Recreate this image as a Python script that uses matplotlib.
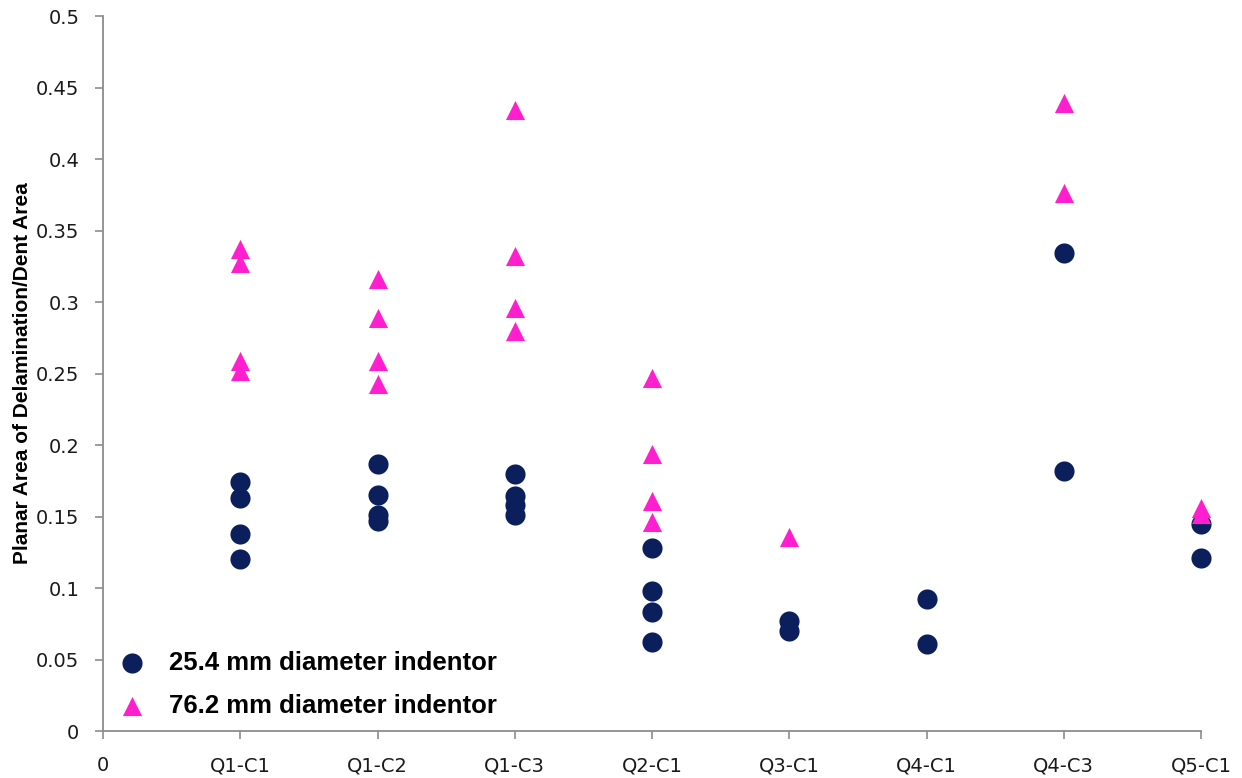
import matplotlib
matplotlib.use("Agg")
import matplotlib.pyplot as plt

plt.rcParams['font.family'] = ['DejaVu Sans']

categories = ["Q1-C1", "Q1-C2", "Q1-C3", "Q2-C1", "Q3-C1", "Q4-C1", "Q4-C3", "Q5-C1"]

# 25.4 mm indentor (circles): category index -> values
small_x = [1, 1, 1, 1, 2, 2, 2, 2, 3, 3, 3, 3, 4, 4, 4, 4, 5, 5, 6, 6, 7, 7, 8, 8]
small_y = [0.174, 0.163, 0.138, 0.120,
           0.187, 0.165, 0.151, 0.147,
           0.180, 0.164, 0.158, 0.151,
           0.128, 0.098, 0.083, 0.062,
           0.077, 0.070,
           0.092, 0.061,
           0.334, 0.182,
           0.145, 0.121]

# 76.2 mm indentor (triangles)
large_x = [1, 1, 1, 1, 2, 2, 2, 2, 3, 3, 3, 3, 4, 4, 4, 4, 5, 7, 7, 8, 8]
large_y = [0.337, 0.327, 0.259, 0.252,
           0.316, 0.289, 0.259, 0.243,
           0.434, 0.332, 0.296, 0.280,
           0.247, 0.194, 0.161, 0.146,
           0.136,
           0.439, 0.376,
           0.156, 0.152]

fig = plt.figure(figsize=(12.42, 7.78), dpi=100)
ax = fig.add_axes([0.083, 0.0604, 0.884, 0.919])

ax.scatter(small_x, small_y, s=210, marker='o', color='#0a1f5c', linewidths=0,
           label='25.4 mm diameter indentor', zorder=3, clip_on=False)
ax.scatter(large_x, large_y, s=190, marker='^', color='#ff1fcf', linewidths=0,
           label='76.2 mm diameter indentor', zorder=3, clip_on=False)

ax.set_xlim(0, 8)
ax.set_ylim(0, 0.5)
ax.set_xticks(range(0, 9))
ax.set_xticklabels(["0"] + categories)
ax.set_yticks([i * 0.05 for i in range(11)])
ax.set_yticklabels(["0", "0.05", "0.1", "0.15", "0.2", "0.25", "0.3", "0.35", "0.4", "0.45", "0.5"])

for side in ['top', 'right']:
    ax.spines[side].set_visible(False)
for side in ['left', 'bottom']:
    ax.spines[side].set_color('#8c8c8c')
    ax.spines[side].set_linewidth(1.3)

ax.tick_params(axis='both', colors='#8c8c8c', labelcolor='#1a1a1a', labelsize=14,
               length=6, width=1.2, direction='out')
ax.tick_params(axis='x', pad=12)
ax.tick_params(axis='y', pad=11)

ax.set_ylabel('Planar Area of Delamination/Dent Area', fontsize=15, fontweight='bold',
              family='Liberation Sans', labelpad=3)

leg = ax.legend(loc='lower left', bbox_to_anchor=(0.012, 0.018), frameon=False,
                prop={'size': 18.5, 'weight': 'bold', 'family': 'Liberation Sans'},
                handlelength=1.2, handletextpad=0.85, labelspacing=0.75,
                borderpad=0, borderaxespad=0, scatterpoints=1)

fig.savefig('out.png', dpi=100)
